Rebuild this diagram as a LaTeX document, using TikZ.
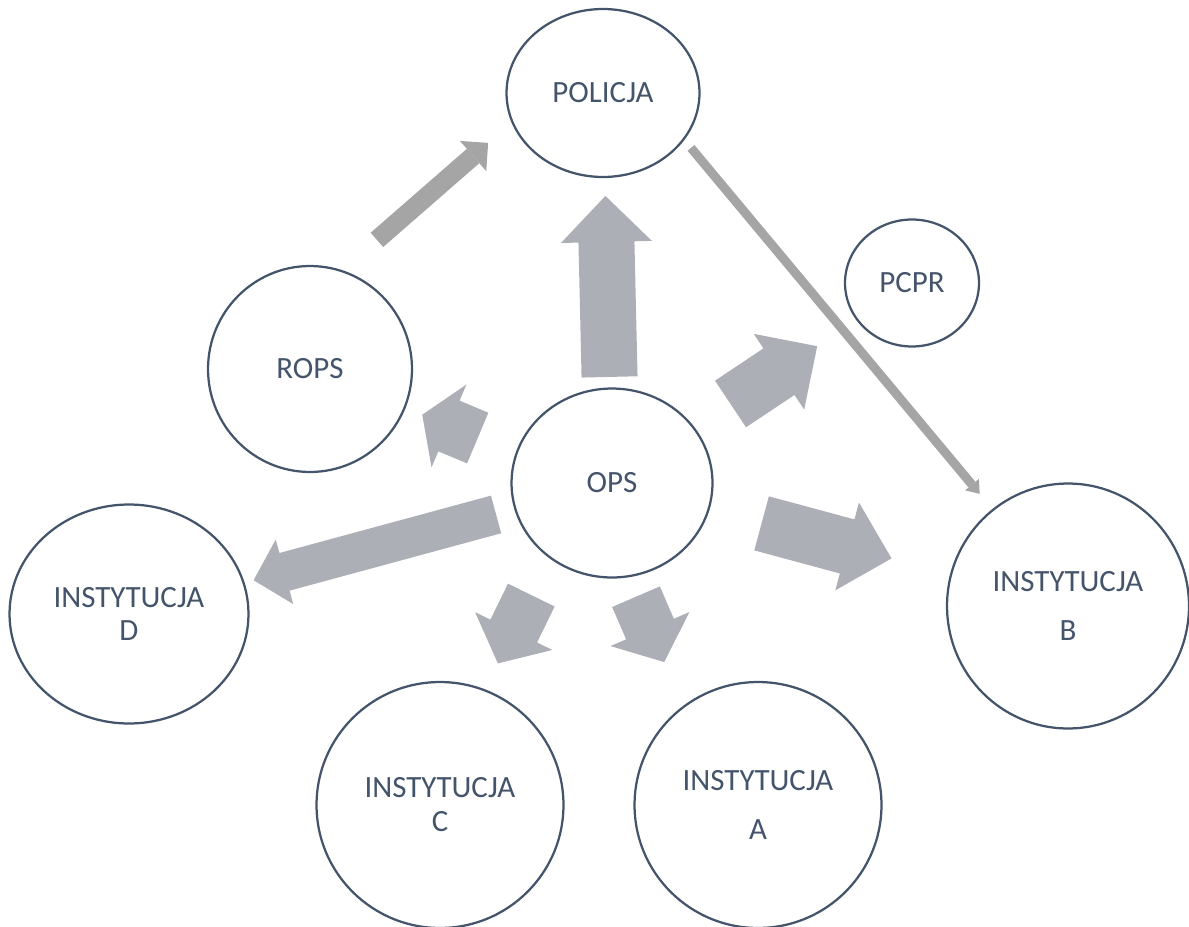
\documentclass[tikz,border=0pt]{standalone}
\usepackage{fontspec}
\setmainfont{Carlito}
\usetikzlibrary{shapes.geometric,arrows.meta,calc}
\definecolor{circline}{HTML}{44546A}
\definecolor{arrowfill}{HTML}{ADAFB7}
\definecolor{linkgray}{HTML}{A5A5A5}

% [colour]{tail}{tip}{half shaft}{half head}{head length}
\newcommand{\blockarrow}[6][arrowfill]{%
  \coordinate (hb) at ($(#3)!#6!(#2)$);
  \fill[#1] ($(#2)!#4!90:(#3)$) -- ($(hb)!#4!90:(#3)$) -- ($(hb)!#5!90:(#3)$) -- (#3)
    -- ($(hb)!#5!-90:(#3)$) -- ($(hb)!#4!-90:(#3)$) -- ($(#2)!#4!-90:(#3)$) -- cycle;}

\begin{document}
\begin{tikzpicture}[x=0.02cm, y=-0.02cm,
    circ/.style={ellipse, draw=circline, line width=0.045cm, text=circline,
      align=center, inner sep=0pt, font=\fontsize{17.6}{19.3}\selectfont},
    link/.style n args={3}{draw=linkgray, line width=#1,
      -{Triangle[width=#2, length=#3, line width=0pt]}}]

  \useasboundingbox (0,0) rectangle (1189,926);

  \node[circ, minimum width=3.86cm, minimum height=3.36cm] (policja) at (603,93) {POLICJA};
  \node[circ, minimum width=2.68cm, minimum height=2.54cm] (pcpr) at (912,283) {PCPR};
  \node[circ, minimum width=4.08cm, minimum height=4.12cm] (rops) at (310,369) {ROPS};
  \node[circ, minimum width=4.02cm, minimum height=3.78cm] (ops) at (612,483) {OPS};
  \node[circ, minimum width=4.78cm, minimum height=4.38cm] (instd) at (129,614) {INSTYTUCJA\\D};
  \node[circ, minimum width=4.84cm, minimum height=4.9cm] (instb) at (1068,606) {INSTYTUCJA\\[8.6pt]B};
  \node[circ, minimum width=4.94cm, minimum height=4.92cm] (instc) at (440,805) {INSTYTUCJA\\C};
  \node[circ, minimum width=4.94cm, minimum height=4.92cm] (insta) at (758,805) {INSTYTUCJA\\[8.6pt]A};

  \coordinate (up-s) at ($(ops.center)!0.272!(policja.center)$);
  \coordinate (up-e) at ($(ops.center)!0.736!(policja.center)$);
  \coordinate (pc-s) at ($(ops.center)!0.395!(pcpr.center)$);
  \coordinate (pc-e) at ($(ops.center)!0.684!(pcpr.center)$);
  \coordinate (ib-s) at ($(ops.center)!0.328!(instb.center)$);
  \coordinate (ib-e) at ($(ops.center)!0.613!(instb.center)$);
  \coordinate (id-s) at ($(ops.center)!0.24!(instd.center)$);
  \coordinate (id-e) at ($(ops.center)!0.742!(instd.center)$);
  \coordinate (ic-s) at ($(ops.center)!0.376!(instc.center)+(-16,-9)$);
  \coordinate (ic-e) at ($(ops.center)!0.582!(instc.center)+(-14,-7)$);
  \coordinate (ia-s) at ($(ops.center)!0.322!(insta.center)+(-23,10)$);
  \coordinate (ia-e) at ($(ops.center)!0.522!(insta.center)+(-24,11)$);
  \coordinate (ro-s) at ($(ops.center)!0.438!(rops.center)+(-2,5)$);
  \coordinate (ro-e) at ($(ops.center)!0.625!(rops.center)+(-1,3)$);

  \blockarrow{up-s}{up-e}{0.56cm}{0.91cm}{0.92cm}
  \blockarrow{pc-s}{pc-e}{0.56cm}{0.91cm}{0.92cm}
  \blockarrow{ib-s}{ib-e}{0.56cm}{0.91cm}{0.92cm}
  \blockarrow{id-s}{id-e}{0.39cm}{0.67cm}{0.64cm}
  \blockarrow{ic-s}{ic-e}{0.52cm}{0.86cm}{0.72cm}
  \blockarrow{ia-s}{ia-e}{0.52cm}{0.86cm}{0.72cm}
  \blockarrow{ro-s}{ro-e}{0.55cm}{0.9cm}{0.58cm}

  \draw[link={0.38cm}{0.8cm}{0.4cm}] ($(rops.center)!0.341!(policja.center)+(-33,-35)$) -- ($(rops.center)!0.707!(policja.center)+(-29,-31)$);
  \draw[link={0.18cm}{0.36cm}{0.24cm}] ($(policja.center)!0.144!(instb.center)+(21,-19)$) -- ($(policja.center)!0.795!(instb.center)+(7,-7)$);

\end{tikzpicture}
\end{document}
